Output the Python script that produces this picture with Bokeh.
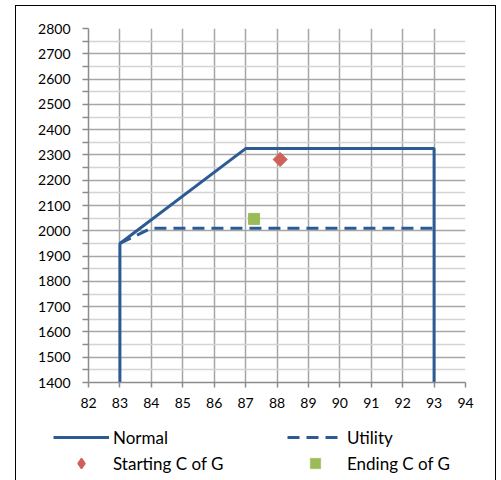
import math
from bokeh.plotting import figure
from bokeh.models import Legend, LegendItem, Range1d, FixedTicker, InlineStyleSheet
from bokeh.layouts import column, row
from bokeh.embed import file_html
from bokeh.resources import INLINE

# Data
normal_x = [83, 83, 87, 93, 93]
normal_y = [1400, 1950, 2325, 2325, 1400]
utility_x = [83, 84, 93]
utility_y = [1950, 2010, 2010]
start_cg_x = [88.1]
start_cg_y = [2282]
end_cg_x = [87.27]
end_cg_y = [2047]
x_ticks = list(range(82, 95))
y_ticks = list(range(1400, 2801, 100))
series_names = ["Normal", "Utility", "Starting C of G", "Ending C of G"]

FONT = "Lato"
BLUE = "#2C5B94"
RED = "#D0605A"
GREEN = "#9BBB59"

frame_css = InlineStyleSheet(css="""
:host { position: relative; }
:host::after {
  content: '';
  position: absolute;
  left: 0; top: 0; right: 0; bottom: 0;
  border: 1.5px solid #000000;
  pointer-events: none;
  z-index: 100;
}
""")

p = figure(frame_width=377, frame_height=354, output_backend="svg", toolbar_location=None,
           x_range=Range1d(82, 94), y_range=Range1d(1400, 2800),
           min_border_left=73, min_border_right=31, min_border_top=23, min_border_bottom=40)
p.outline_line_color = None

p.xaxis.ticker = FixedTicker(ticks=x_ticks)
p.yaxis.ticker = FixedTicker(ticks=y_ticks, minor_ticks=list(range(1450, 2800, 100)))

p.xgrid.grid_line_color = "#A6A6A6"
p.xgrid.grid_line_width = 1.5
p.ygrid.grid_line_color = "#A6A6A6"
p.ygrid.grid_line_width = 1.5
p.ygrid.minor_grid_line_color = "#D4D4D4"
p.ygrid.minor_grid_line_width = 1.5

for ax in (p.xaxis, p.yaxis):
    ax.axis_line_color = "#8C8C8C"
    ax.axis_line_width = 1.5
    ax.major_tick_line_color = "#8C8C8C"
    ax.major_tick_line_width = 1.5
    ax.major_tick_in = 0
    ax.major_label_text_font = FONT
    ax.major_label_text_font_size = "14px"
    ax.major_label_text_color = "#000000"

p.yaxis.major_tick_out = 6
p.yaxis.minor_tick_out = 6
p.yaxis.minor_tick_in = 0
p.yaxis.minor_tick_line_color = "#8C8C8C"
p.yaxis.minor_tick_line_width = 1.5
p.yaxis.major_label_standoff = 12
p.xaxis.major_tick_out = 5
p.xaxis.minor_tick_line_color = None
p.xaxis.major_label_standoff = 10

line_style = dict(line_color=BLUE, line_width=3)
dash = "12 7"
end_style = dict(marker="square", size=11, fill_color=GREEN, line_color=GREEN)

p.line(normal_x, normal_y, **line_style)
p.line(utility_x, utility_y, line_dash=dash, **line_style)
p.scatter(start_cg_x, start_cg_y, marker="square", size=10, angle=math.pi / 4,
          fill_color=RED, line_color=RED)
p.scatter(end_cg_x, end_cg_y, **end_style)

# Legend panel: separate figure below the chart whose visible range holds
# none of the data, so its renderers only serve as legend swatches.
lp = figure(width=481, height=63, output_backend="svg", toolbar_location=None,
            x_range=Range1d(0, 1), y_range=Range1d(0, 1),
            x_axis_type=None, y_axis_type=None,
            min_border=0)
lp.outline_line_color = None
lp.xgrid.visible = False
lp.ygrid.visible = False
l_normal = lp.line(normal_x, normal_y, **line_style)
l_util = lp.line(utility_x, utility_y, line_dash=dash, **line_style)
l_start = lp.scatter(start_cg_x, start_cg_y, marker="diamond", size=14,
                     fill_color=RED, line_color=RED, line_width=1.5)
l_end = lp.scatter(end_cg_x, end_cg_y, marker="square", size=11,
                   fill_color=GREEN, line_color=GREEN, line_width=0.5)

legend = Legend(items=[
    LegendItem(label=series_names[0], renderers=[l_normal]),
    LegendItem(label=series_names[2], renderers=[l_start]),
    LegendItem(label=series_names[1], renderers=[l_util]),
    LegendItem(label=series_names[3], renderers=[l_end]),
], location=(38, 9), ncols=2)
legend.label_text_font = FONT
legend.label_text_font_size = "17px"
legend.label_text_color = "#000000"
legend.glyph_width = 56
legend.glyph_height = 26
legend.label_height = 20
legend.label_width = 174
legend.label_standoff = 4
legend.spacing = -1
legend.padding = 0
legend.margin = 0
legend.border_line_color = None
legend.background_fill_alpha = 0
lp.add_layout(legend, "center")

layout = column(p, row(lp, spacing=0), spacing=0, margin=(5, 0, 0, 15),
                stylesheets=[frame_css])

open("out.html", "w").write(file_html(layout, INLINE))
